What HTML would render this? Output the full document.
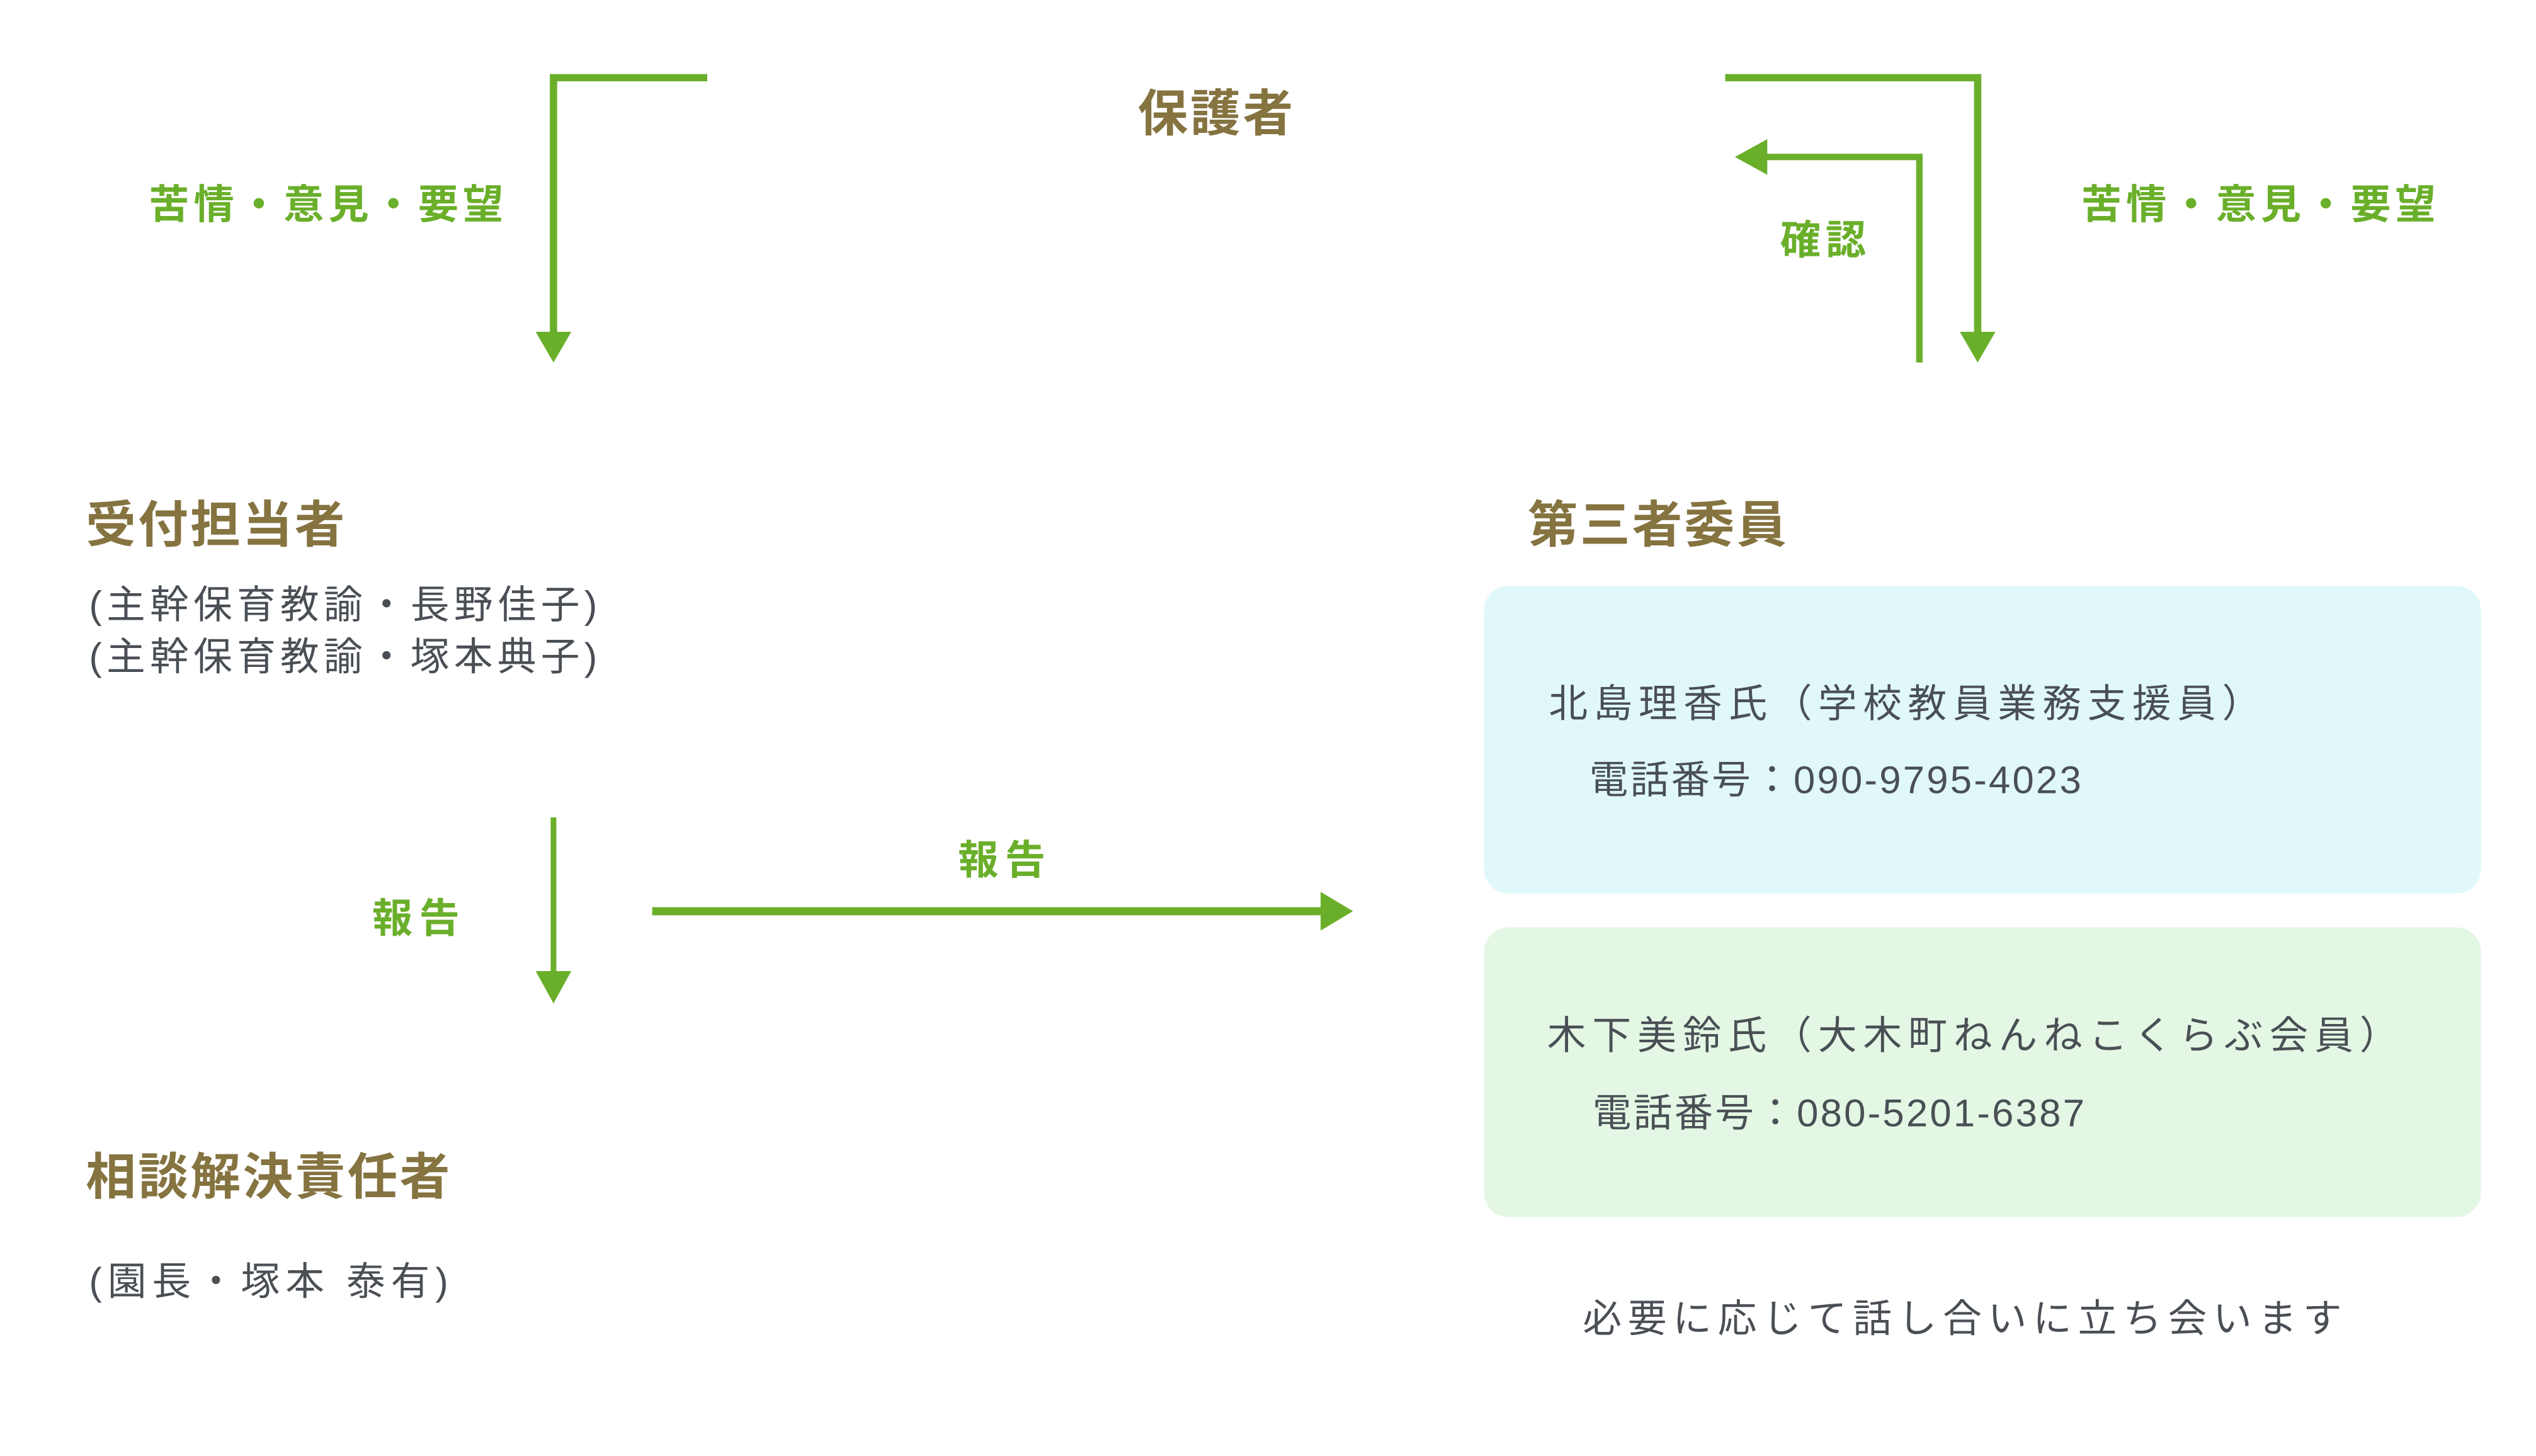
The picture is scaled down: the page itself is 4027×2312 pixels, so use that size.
<!DOCTYPE html>
<html><head><meta charset="utf-8"><style>
html,body{margin:0;padding:0;background:#fff;}
svg{display:block;}
text{font-family:"Liberation Sans","Noto Sans CJK JP",sans-serif;}
.h{fill:#857340;font-weight:bold;font-size:31px;}
.g{fill:#6aaf2a;font-weight:bold;font-size:25px;}
.t{fill:#4a4f55;font-size:24px;}
</style></head><body>
<svg width="4027" height="2312" viewBox="0 0 1567 899.6" preserveAspectRatio="none" xmlns="http://www.w3.org/2000/svg">
<rect width="1567" height="900" fill="#fff"/>
<g fill="none" stroke="#6aaf2a">
<path d="M437 48 H342 V208" stroke-width="4.5"/>
<path d="M1066 48 H1222 V208" stroke-width="4.5"/>
<path d="M1186 224 V97 H1090" stroke-width="4"/>
<path d="M342 505 V603" stroke-width="3.5"/>
<path d="M403 563 H820" stroke-width="5"/>
</g>
<g fill="#6aaf2a">
<polygon points="331,205 353,205 342,224"/>
<polygon points="1211,205 1233,205 1222,224"/>
<polygon points="1092,86 1092,108 1072,97"/>
<polygon points="331,600 353,600 342,620"/>
<polygon points="816,551 816,575 836,563"/>
</g>
<rect x="917" y="362" width="616" height="190" rx="15" fill="#e0f8fa"/>
<rect x="917" y="573" width="616" height="179" rx="15" fill="#e4f7e4"/>
<text class="h" x="703" y="81" textLength="96">保護者</text>
<text class="g" x="92" y="135" textLength="219">苦情・意見・要望</text>
<text class="g" x="1286" y="135" textLength="219">苦情・意見・要望</text>
<text class="g" x="1100" y="157" textLength="53">確認</text>
<text class="h" x="53" y="335" textLength="160">受付担当者</text>
<text class="h" x="944" y="335" textLength="160">第三者委員</text>
<text class="t" x="55" y="382" textLength="314">(主幹保育教諭・長野佳子)</text>
<text class="t" x="55" y="414" textLength="314">(主幹保育教諭・塚本典子)</text>
<text class="t" x="957" y="443" textLength="440">北島理香氏（学校教員業務支援員）</text>
<text class="t" x="982" y="490" textLength="304">電話番号：090-9795-4023</text>
<text class="t" x="956" y="648" textLength="526">木下美鈴氏（大木町ねんねこくらぶ会員）</text>
<text class="t" x="984" y="696" textLength="304">電話番号：080-5201-6387</text>
<text class="t" x="978" y="823" textLength="469">必要に応じて話し合いに立ち会います</text>
<text class="g" x="230" y="576" textLength="54">報告</text>
<text class="g" x="592" y="540" textLength="54">報告</text>
<text class="h" x="53" y="738" textLength="225">相談解決責任者</text>
<text class="t" x="55" y="800" textLength="222">(園長・塚本 泰有)</text>
</svg>
</body></html>
